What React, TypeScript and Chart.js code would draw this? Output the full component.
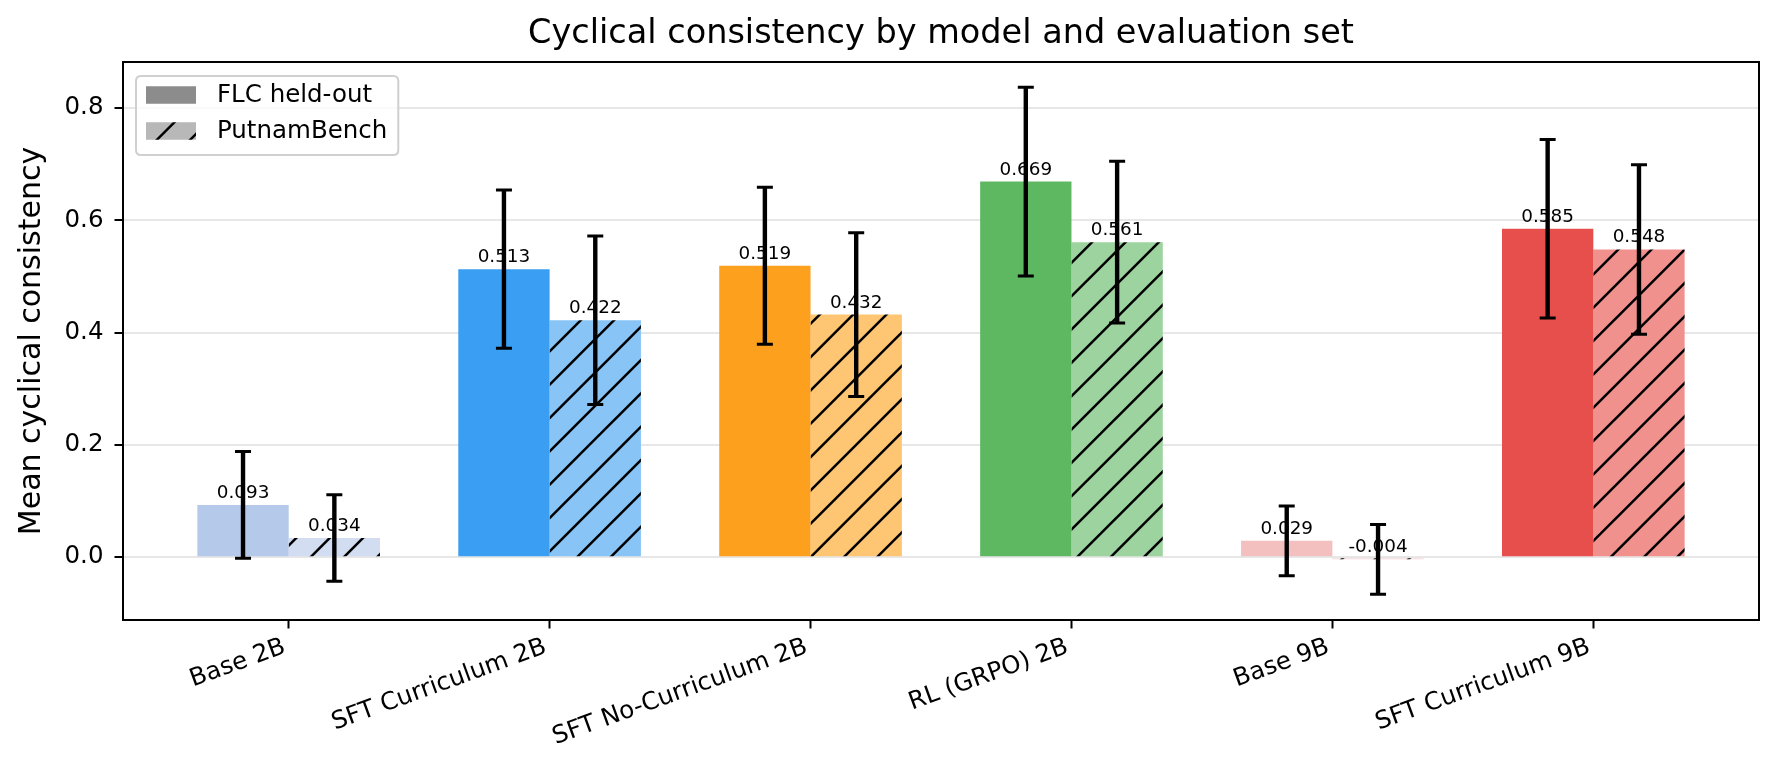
import React, { useEffect, useRef } from 'react';
import { Chart, registerables } from 'chart.js';

Chart.register(...registerables);

const categories = ['Base 2B', 'SFT Curriculum 2B', 'SFT No-Curriculum 2B', 'RL (GRPO) 2B', 'Base 9B', 'SFT Curriculum 9B'];
const seriesNames = ['FLC held-out', 'PutnamBench'];
const flcValues = [0.093, 0.513, 0.519, 0.669, 0.029, 0.585];
const putnamValues = [0.034, 0.422, 0.432, 0.561, -0.004, 0.548];
const flcErrors = [0.095, 0.141, 0.140, 0.168, 0.062, 0.159];
const putnamErrors = [0.077, 0.150, 0.146, 0.144, 0.062, 0.151];
const flcColors = ['#b5c9ea', '#3a9ef2', '#fda01e', '#5eb862', '#f4c0bf', '#e64f4b'];
const putnamColors = ['#d2ddf1', '#88c5f6', '#fec572', '#9dd39e', '#f8d8d8', '#f0918e'];
const legendColors = ['#8c8c8c', '#b8b8b8'];
const yTicks = [0, 0.2, 0.4, 0.6, 0.8];

const FONT = "'DejaVu Sans', sans-serif";

function makeHatch(color: string, offset: number): CanvasPattern | string {
  const size = 100;
  const step = 100 / 3;
  const c = document.createElement('canvas');
  c.width = size;
  c.height = size;
  const g = c.getContext('2d');
  if (!g) return color;
  g.fillStyle = color;
  g.fillRect(0, 0, size, size);
  g.strokeStyle = '#000';
  g.lineWidth = 2.5;
  for (let k = -2; k <= 8; k++) {
    const cc = offset + k * step;
    g.beginPath();
    g.moveTo(cc + 20, -20);
    g.lineTo(-20, cc + 20);
    g.stroke();
  }
  return g.createPattern(c, 'repeat') || color;
}

const overlayPlugin = {
  id: 'overlay',
  afterDraw(chart: any) {
    const ctx: CanvasRenderingContext2D = chart.ctx;
    const ys = chart.scales.y;
    const area = chart.chartArea;
    const series = [
      { values: flcValues, errors: flcErrors },
      { values: putnamValues, errors: putnamErrors },
    ];
    ctx.save();
    // value labels
    ctx.fillStyle = '#000';
    ctx.font = `18.4px ${FONT}`;
    ctx.textAlign = 'center';
    ctx.textBaseline = 'alphabetic';
    series.forEach((s, di) => {
      const meta = chart.getDatasetMeta(di);
      s.values.forEach((v, i) => {
        const bar = meta.data[i];
        ctx.fillText(v.toFixed(3), bar.x, ys.getPixelForValue(v) - 7);
      });
    });
    // error bars
    ctx.strokeStyle = '#000';
    series.forEach((s, di) => {
      const meta = chart.getDatasetMeta(di);
      s.values.forEach((v, i) => {
        const x = meta.data[i].x;
        const yTop = ys.getPixelForValue(v + s.errors[i]);
        const yBot = ys.getPixelForValue(v - s.errors[i]);
        ctx.lineWidth = 4.4;
        ctx.beginPath();
        ctx.moveTo(x, yTop);
        ctx.lineTo(x, yBot);
        ctx.stroke();
        ctx.lineWidth = 3;
        ctx.beginPath();
        ctx.moveTo(x - 8, yTop);
        ctx.lineTo(x + 8, yTop);
        ctx.moveTo(x - 8, yBot);
        ctx.lineTo(x + 8, yBot);
        ctx.stroke();
      });
    });
    // frame
    ctx.lineWidth = 2;
    ctx.strokeStyle = '#000';
    ctx.strokeRect(area.left, area.top, area.right - area.left, area.bottom - area.top);

    // legend
    ctx.font = `24.5px ${FONT}`;
    const textW = Math.max(...seriesNames.map((n) => ctx.measureText(n).width));
    const bx = area.left + 13;
    const by = area.top + 14;
    const bw = 81 + textW + 11;
    const bh = 79;
    const r = 5;
    ctx.beginPath();
    ctx.moveTo(bx + r, by);
    ctx.lineTo(bx + bw - r, by);
    ctx.quadraticCurveTo(bx + bw, by, bx + bw, by + r);
    ctx.lineTo(bx + bw, by + bh - r);
    ctx.quadraticCurveTo(bx + bw, by + bh, bx + bw - r, by + bh);
    ctx.lineTo(bx + r, by + bh);
    ctx.quadraticCurveTo(bx, by + bh, bx, by + bh - r);
    ctx.lineTo(bx, by + r);
    ctx.quadraticCurveTo(bx, by, bx + r, by);
    ctx.closePath();
    ctx.fillStyle = 'rgba(255,255,255,0.8)';
    ctx.fill();
    ctx.strokeStyle = '#d0d0d0';
    ctx.lineWidth = 2;
    ctx.stroke();
    seriesNames.forEach((name, i) => {
      const cy = by + 19 + i * 36;
      ctx.fillStyle = i === 0 ? legendColors[0] : (makeHatch(legendColors[1], 30) as any);
      ctx.fillRect(bx + 10, cy - 8.75, 50, 17.5);
      ctx.fillStyle = '#000';
      ctx.textAlign = 'left';
      ctx.textBaseline = 'middle';
      ctx.fillText(name, bx + 81, cy + 1);
    });
    ctx.restore();
  },
};

export default function App() {
  const canvasRef = useRef<HTMLCanvasElement | null>(null);

  useEffect(() => {
    document.body.style.margin = '0';
    const canvas = canvasRef.current;
    if (!canvas) return;
    const chart = new Chart(canvas, {
      type: 'bar',
      data: {
        datasets: [
          {
            label: seriesNames[0],
            data: flcValues.map((v, i) => ({ x: i, y: v })),
            backgroundColor: flcColors,
            borderWidth: 0,
          },
          {
            label: seriesNames[1],
            data: putnamValues.map((v, i) => ({ x: i, y: v })),
            backgroundColor: putnamColors.map((c) => makeHatch(c, 1)),
            borderWidth: 0,
          },
        ],
      } as any,
      options: {
        responsive: false,
        animation: false,
        devicePixelRatio: 1,
        layout: { padding: { left: 0, right: 20, top: 0, bottom: 0 } },
        datasets: { bar: { categoryPercentage: 0.7, barPercentage: 1.0 } },
        events: [],
        plugins: {
          legend: { display: false },
          tooltip: { enabled: false },
          title: {
            display: true,
            fullSize: false,
            text: 'Cyclical consistency by model and evaluation set',
            color: '#000',
            font: { family: FONT, size: 33.5, weight: 'normal', lineHeight: 1.2 },
            padding: { top: 13.8, bottom: 8 },
          },
        },
        scales: {
          x: {
            type: 'linear',
            offset: false,
            min: -0.635,
            max: 5.635,
            afterBuildTicks: (s: any) => {
              s.ticks = categories.map((_, i) => ({ value: i }));
            },
            afterFit: (s: any) => {
              s.height = 156;
            },
            grid: { offset: false, drawOnChartArea: false, drawTicks: true, tickLength: 8.5, tickColor: '#000', tickWidth: 2 },
            border: { display: false },
            ticks: {
              autoSkip: false,
              minRotation: 20,
              maxRotation: 20,
              padding: 4,
              labelOffset: -4,
              color: '#000',
              font: { family: FONT, size: 24.5 },
              callback: (v: any) => categories[Math.round(Number(v))] ?? '',
            },
          },
          y: {
            type: 'linear',
            min: -0.112,
            max: 0.882,
            z: 1,
            afterBuildTicks: (s: any) => {
              s.ticks = yTicks.map((v) => ({ value: v }));
            },
            afterFit: (s: any) => {
              s.width = 123;
            },
            grid: {
              color: 'rgba(176,176,176,0.3)',
              lineWidth: 2,
              drawTicks: true,
              tickLength: 8.5,
              tickColor: '#000',
              tickWidth: 2,
            },
            border: { display: false },
            ticks: {
              padding: 11,
              color: '#000',
              font: { family: FONT, size: 24.5 },
              callback: (v: any) => Number(v).toFixed(1),
            },
            title: {
              display: true,
              text: 'Mean cyclical consistency',
              color: '#000',
              font: { family: FONT, size: 30 },
              padding: { top: 14.6, bottom: 4 },
            },
          },
        },
      } as any,
      plugins: [overlayPlugin],
    });
    return () => chart.destroy();
  }, []);

  return (
    <div style={{ width: 1779, height: 776 }}>
      <canvas ref={canvasRef} width={1779} height={776} style={{ display: 'block', width: 1779, height: 776 }} />
    </div>
  );
}
